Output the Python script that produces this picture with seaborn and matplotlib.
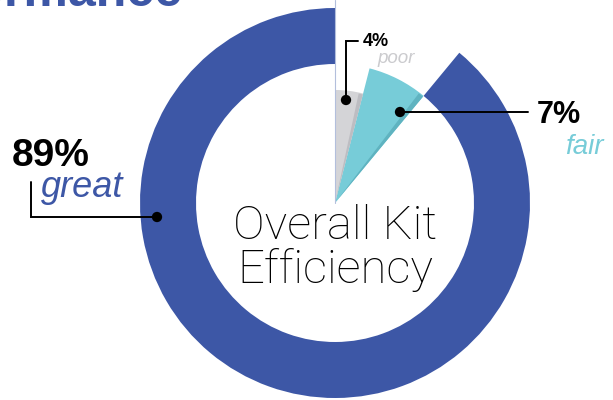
import matplotlib
matplotlib.use("Agg")
import matplotlib.pyplot as plt
import seaborn as sns
import pandas as pd
from matplotlib.patches import Wedge
from matplotlib import font_manager as fm

# ---- data ----
categories = ["poor", "fair", "great"]
percent = [4, 7, 89]
pct_labels = ["4%", "7%", "89%"]
colors = ["#d4d4d7", "#77ccd8", "#3d57a6"]
shadow_colors = ["#bdbdc2", "#5fb3c0", None]
title_text = "Performance"
center_lines = ["Overall Kit", "Efficiency"]

sns.set_theme(style="white")
plt.rcParams["font.family"] = ["Liberation Sans", "DejaVu Sans"]


def find_light():
    for fam in ["Roboto", "Open Sans", "Lato", "Inter", "Noto Sans"]:
        for f in fm.fontManager.ttflist:
            w = f.weight
            if isinstance(w, str):
                w = fm.weight_dict.get(w, 400)
            if f.name == fam and w == 300:
                return fam
    return "Liberation Sans"


LIGHT = find_light()

fig = plt.figure(figsize=(6.13, 4.0), dpi=100)
ax = fig.add_axes([0, 0, 1, 1])
ax.set_xlim(0, 613)
ax.set_ylim(400, 0)
ax.set_aspect("equal")
ax.axis("off")

cx, cy = 335, 203
outer = {"poor": 113, "fair": 139, "great": 195}
ring_width = 56

# cumulative angles (clockwise from top) -> matplotlib angles with inverted y
starts = []
acc = 0
for p in percent:
    starts.append(acc)
    acc += p

order = ["great", "poor", "fair"]
for cat in order:
    i = categories.index(cat)
    t1 = starts[i] * 3.6 - 90
    t2 = (starts[i] + percent[i]) * 3.6 - 90
    w = ring_width if cat == "great" else None
    ax.add_patch(Wedge((cx, cy), outer[cat], t1, t2, width=w,
                       facecolor=colors[i], edgecolor="none", zorder=2))
    if shadow_colors[i]:
        ax.add_patch(Wedge((cx, cy), outer[cat] - 1, t2 - 2.2, t2,
                           facecolor=shadow_colors[i], edgecolor="none", zorder=2.5))

ax.plot([cx, cx], [cy, 0], color="#b3bfdc", lw=0.8, zorder=3)

# ---- leader lines and dots ----
lc = "black"
ax.plot([157, 31, 31], [217, 217, 182], color=lc, lw=1.4, zorder=4, solid_joinstyle="miter")
ax.plot([346, 346, 358], [100, 41, 41], color=lc, lw=1.4, zorder=4, solid_joinstyle="miter")
ax.plot([400, 528], [112, 112], color=lc, lw=1.4, zorder=4)
dots = pd.DataFrame({"x": [346, 400, 157], "y": [100, 112, 217], "cat": categories})
sns.scatterplot(data=dots, x="x", y="y", ax=ax, color="black", s=55,
                edgecolor="none", zorder=5, legend=False)
ax.set_xlim(0, 613)
ax.set_ylim(400, 0)
ax.axis("off")

# ---- texts ----
blue = colors[2]
ax.text(12, 166, pct_labels[2], fontsize=28, fontweight="bold", color="black", va="baseline")
ax.text(41, 197, categories[2], fontsize=26, fontstyle="italic", color=blue, va="baseline")
ax.text(363, 46, pct_labels[0], fontsize=13, fontweight="bold", color="black", va="baseline")
ax.text(377, 63, categories[0], fontsize=13.5, fontstyle="italic", color="#cbcbce", va="baseline")
ax.text(537, 123, pct_labels[1], fontsize=22, fontweight="bold", color="black", va="baseline")
ax.text(565, 154, categories[1], fontsize=20, fontstyle="italic", color=colors[1], va="baseline")

ax.text(cx, 239, center_lines[0], fontsize=34, ha="center", va="baseline",
        family=LIGHT, fontweight="light", color="black")
ax.text(cx, 283, center_lines[1], fontsize=34, ha="center", va="baseline",
        family=LIGHT, fontweight="light", color="black")

ax.text(183, 6, title_text, fontsize=36, fontweight="bold", color=blue,
        ha="right", va="baseline")

fig.savefig("out.png", dpi=100)
